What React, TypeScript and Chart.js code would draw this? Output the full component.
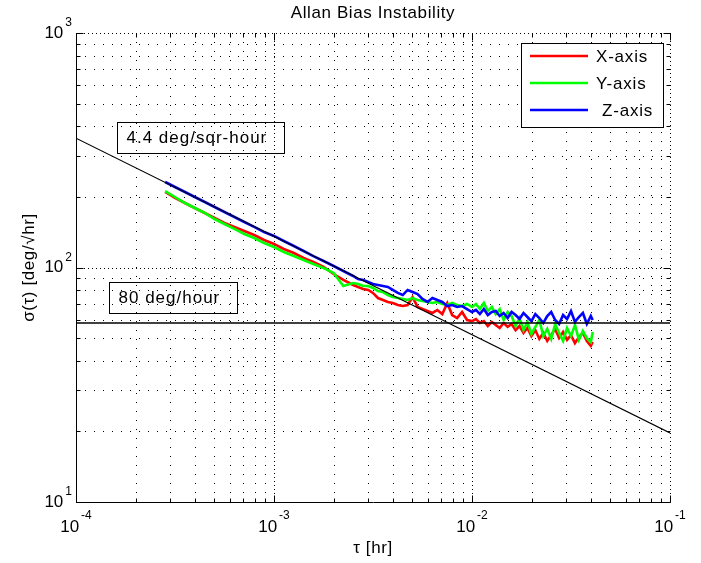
import React, { useEffect, useRef } from "react";
import { Chart, registerables } from "chart.js";

Chart.register(...registerables);

// ---------------- data ----------------
const tau = [
  2.82e-4, 3.16e-4, 3.55e-4, 3.98e-4, 4.47e-4, 5.01e-4, 5.62e-4, 6.31e-4, 7.08e-4, 7.94e-4,
  8.91e-4, 1.0e-3, 1.12e-3, 1.26e-3, 1.41e-3, 1.58e-3, 1.78e-3, 2.0e-3, 2.24e-3, 2.51e-3,
  2.66e-3, 2.82e-3, 2.99e-3, 3.16e-3, 3.35e-3, 3.55e-3, 3.76e-3, 3.98e-3, 4.22e-3, 4.47e-3,
  4.73e-3, 5.01e-3, 5.31e-3, 5.62e-3, 5.96e-3, 6.31e-3, 6.68e-3, 7.08e-3, 7.5e-3, 7.94e-3,
  8.41e-3, 8.91e-3, 9.44e-3, 1.0e-2,
  1.047e-2, 1.096e-2, 1.148e-2, 1.202e-2, 1.259e-2, 1.318e-2, 1.38e-2, 1.445e-2, 1.514e-2, 1.585e-2,
  1.66e-2, 1.738e-2, 1.82e-2, 1.905e-2, 1.995e-2, 2.089e-2, 2.188e-2, 2.291e-2, 2.399e-2, 2.512e-2,
  2.63e-2, 2.754e-2, 2.884e-2, 3.02e-2, 3.162e-2, 3.311e-2, 3.467e-2, 3.631e-2, 3.802e-2, 3.981e-2,
  4.07e-2,
];

const sigmaX = [
  209.9, 197.9, 188.4, 179.4, 170.8, 162.6, 154.8, 148.9, 143.1, 137.6,
  131.0, 126.0, 119.9, 115.3, 109.8, 105.5, 100.5, 93.8, 88.5, 84.2,
  82.6, 81.0, 80.2, 77.9, 74.1, 72.7, 71.3, 70.6, 69.2, 68.5,
  69.2, 74.8, 67.9, 66.5, 65.2, 64.0, 65.9, 63.3, 70.6, 62.7,
  60.9, 64.6, 59.7, 59.1,
  60.3, 58.0, 59.1, 56.3, 58.6, 56.9, 55.2, 58.0, 55.8, 57.4,
  54.1, 56.3, 52.6, 55.2, 51.0, 54.1, 49.6, 52.6, 48.6, 51.5,
  54.7, 50.0, 53.1, 49.1, 51.5, 47.6, 50.5, 52.6, 48.6, 46.3,
  48.1,
];

const sigmaY = [
  211.9, 199.8, 188.4, 179.4, 170.8, 161.0, 153.3, 146.0, 139.0, 133.6,
  127.2, 122.3, 116.5, 111.9, 107.6, 103.5, 99.5, 94.8, 83.4, 85.9,
  85.0, 83.4, 83.4, 81.8, 79.4, 78.6, 76.3, 74.8, 74.1, 73.4,
  72.7, 74.1, 72.7, 72.0, 71.3, 70.6, 71.3, 69.9, 69.2, 70.6,
  69.2, 68.5, 69.9, 67.9,
  69.9, 66.5, 70.6, 65.2, 67.9, 63.3, 66.5, 59.7, 64.6, 62.1,
  56.3, 60.9, 54.1, 58.6, 52.0, 55.8, 59.7, 51.0, 54.7, 49.6,
  57.4, 52.6, 48.6, 55.2, 51.0, 56.9, 49.1, 53.6, 50.0, 48.1,
  53.1,
];

const sigmaZ = [
  231.5, 220.4, 209.9, 199.8, 190.2, 181.1, 172.5, 164.2, 156.3, 148.9,
  141.7, 136.3, 129.7, 123.5, 117.6, 111.9, 106.6, 101.5, 96.6, 92.0,
  89.3, 88.5, 86.7, 85.0, 84.2, 83.4, 82.6, 80.2, 77.9, 76.3,
  80.2, 78.6, 77.1, 73.4, 71.3, 74.1, 72.7, 71.3, 68.5, 69.2,
  67.9, 68.5, 66.5, 64.6,
  65.9, 63.3, 66.5, 62.7, 64.6, 65.2, 62.1, 64.0, 60.9, 64.6,
  62.7, 60.3, 64.0, 61.5, 59.1, 63.3, 60.9, 58.0, 62.1, 64.6,
  59.7, 57.4, 62.7, 60.3, 65.2, 58.6, 61.5, 64.0, 57.4, 62.1,
  59.7,
];

const noiseLineTau = [1e-4, 1e-1];
const noiseLineSigma = [356, 19.7];
const biasLineTau = [1e-4, 1e-1];
const biasLineSigma = [58, 58];

const xTickExps = [-4, -3, -2, -1];
const yTickExps = [1, 2, 3];

const seriesNames = ["X-axis", "Y-axis", "Z-axis"];
const seriesColors = ["#ff0000", "#00ff00", "#0000ff"];

const titleText = "Allan Bias Instability";
const xTitle = "τ [hr]";
const yTitle = "σ(τ) [deg/√hr]";
const noiseLabel = "4.4 deg/sqr-hour";
const noiseLabelAt = { x: 1.62e-4, y: 360 }; // left anchor of the label box
const biasLabel = "80 deg/hour";
const biasLabelAt = { x: 1.46e-4, y: 74.8 };

// ---------------- drawing helpers ----------------
const FONT = '"Liberation Sans", Arial, Helvetica, sans-serif';
const MAIN_PX = 17;
const EXP_PX = 12;

function setSpacing(ctx: any, s: string) {
  if ("letterSpacing" in ctx) ctx.letterSpacing = s;
}

function gridValues(minExp: number, maxExp: number) {
  const out: { v: number; major: boolean }[] = [];
  for (let e = minExp; e < maxExp; e++) {
    for (let k = 1; k <= 9; k++) out.push({ v: k * Math.pow(10, e), major: k === 1 });
  }
  out.push({ v: Math.pow(10, maxExp), major: true });
  return out;
}

const decor = {
  id: "matlabDecor",
  beforeDatasetsDraw(chart: any) {
    const { ctx, chartArea: a, scales } = chart;
    const xs = scales.x;
    const ys = scales.y;
    ctx.save();
    ctx.strokeStyle = "#000";
    ctx.lineWidth = 1;
    for (const g of gridValues(xTickExps[0], xTickExps[xTickExps.length - 1])) {
      const px = Math.round(xs.getPixelForValue(g.v)) + 0.5;
      ctx.setLineDash(g.major ? [1, 3] : [1, 8]);
      ctx.beginPath();
      ctx.moveTo(px, a.bottom);
      ctx.lineTo(px, a.top);
      ctx.stroke();
    }
    for (const g of gridValues(yTickExps[0], yTickExps[yTickExps.length - 1])) {
      const py = Math.round(ys.getPixelForValue(g.v)) + 0.5;
      ctx.setLineDash(g.major ? [1, 3] : [1, 8]);
      ctx.beginPath();
      ctx.moveTo(a.left, py);
      ctx.lineTo(a.right, py);
      ctx.stroke();
    }
    ctx.restore();
  },
  afterDatasetsDraw(chart: any) {
    const { ctx, chartArea: a, scales } = chart;
    const xs = scales.x;
    const ys = scales.y;
    ctx.save();
    ctx.setLineDash([]);
    ctx.strokeStyle = "#000";
    ctx.fillStyle = "#000";
    ctx.lineWidth = 1;

    const L = Math.round(a.left) + 0.5;
    const B = Math.round(a.bottom) + 0.5;
    const T = Math.round(a.top) + 0.5;
    const R = Math.round(a.right) + 0.5;

    // solid axes (left & bottom)
    ctx.beginPath();
    ctx.moveTo(L, T);
    ctx.lineTo(L, B);
    ctx.lineTo(R, B);
    ctx.stroke();

    // inward tick marks on all sides
    for (const g of gridValues(xTickExps[0], xTickExps[xTickExps.length - 1])) {
      const px = Math.round(xs.getPixelForValue(g.v)) + 0.5;
      const len = g.major ? 7 : 4;
      ctx.beginPath();
      ctx.moveTo(px, B);
      ctx.lineTo(px, B - len);
      ctx.moveTo(px, T);
      ctx.lineTo(px, T + len);
      ctx.stroke();
    }
    for (const g of gridValues(yTickExps[0], yTickExps[yTickExps.length - 1])) {
      const py = Math.round(ys.getPixelForValue(g.v)) + 0.5;
      const len = g.major ? 7 : 4;
      ctx.beginPath();
      ctx.moveTo(L, py);
      ctx.lineTo(L + len, py);
      ctx.moveTo(R, py);
      ctx.lineTo(R - len, py);
      ctx.stroke();
    }

    // tick labels 10^n
    ctx.textBaseline = "middle";
    for (const e of xTickExps) {
      const px = xs.getPixelForValue(Math.pow(10, e));
      ctx.font = `${MAIN_PX}px ${FONT}`;
      const w1 = ctx.measureText("10").width;
      ctx.font = `${EXP_PX}px ${FONT}`;
      const es = String(e);
      const w2 = ctx.measureText(es).width;
      const x0 = px - (w1 + 2 + w2) / 2;
      ctx.textAlign = "left";
      ctx.font = `${MAIN_PX}px ${FONT}`;
      ctx.fillText("10", x0, a.bottom + 25);
      ctx.font = `${EXP_PX}px ${FONT}`;
      ctx.fillText(es, x0 + w1 + 2, a.bottom + 14);
    }
    for (const e of yTickExps) {
      const py = ys.getPixelForValue(Math.pow(10, e));
      const es = String(e);
      ctx.textAlign = "right";
      ctx.font = `${EXP_PX}px ${FONT}`;
      const w2 = ctx.measureText(es).width;
      ctx.fillText(es, a.left - 4, py - 10);
      ctx.font = `${MAIN_PX}px ${FONT}`;
      ctx.fillText("10", a.left - 6 - w2, py);
    }

    // title & axis titles
    ctx.textAlign = "center";
    ctx.font = `${MAIN_PX}px ${FONT}`;
    setSpacing(ctx, "0.6px");
    ctx.fillText(titleText, (a.left + a.right) / 2, 13);
    ctx.fillText(xTitle, (a.left + a.right) / 2, 548);
    ctx.save();
    ctx.translate(29, (a.top + a.bottom) / 2);
    ctx.rotate(-Math.PI / 2);
    ctx.fillText(yTitle, 0, 0);
    ctx.restore();

    // annotation boxes (transparent background)
    const drawLabelBox = (text: string, at: { x: number; y: number }) => {
      ctx.font = `${MAIN_PX}px ${FONT}`;
      setSpacing(ctx, "1px");
      const w = ctx.measureText(text).width;
      const bx = Math.round(xs.getPixelForValue(at.x)) + 0.5;
      const cy = ys.getPixelForValue(at.y);
      const h = 31;
      const by = Math.round(cy - h / 2) + 0.5;
      const bw = Math.round(w + 26);
      ctx.lineWidth = 1;
      ctx.strokeRect(bx, by, bw, h);
      ctx.textAlign = "left";
      ctx.fillText(text, bx + 9, cy + 1);
    };
    drawLabelBox(noiseLabel, noiseLabelAt);
    drawLabelBox(biasLabel, biasLabelAt);

    // legend (white box, top-right)
    const lx = 521.5;
    const ly = 43.5;
    const lw = 142;
    const lh = 84;
    ctx.fillStyle = "#fff";
    ctx.fillRect(lx, ly, lw, lh);
    ctx.strokeStyle = "#000";
    ctx.strokeRect(lx, ly, lw, lh);
    ctx.font = `${MAIN_PX}px ${FONT}`;
    setSpacing(ctx, "0.8px");
    ctx.textAlign = "left";
    seriesNames.forEach((name, i) => {
      const ry = 56 + i * 27;
      ctx.strokeStyle = seriesColors[i];
      ctx.lineWidth = 2.4;
      ctx.beginPath();
      ctx.moveTo(530, ry);
      ctx.lineTo(588, ry);
      ctx.stroke();
      ctx.fillStyle = "#000";
      ctx.fillText(name, i === 2 ? 602 : 596, ry + 1);
    });
    setSpacing(ctx, "0px");
    ctx.restore();
  },
};

function toPoints(xs: number[], ys: number[]) {
  return xs.map((x, i) => ({ x, y: ys[i] }));
}

export default function App() {
  const ref = useRef<HTMLCanvasElement | null>(null);

  useEffect(() => {
    if (!ref.current) return;
    const sigmas = [sigmaX, sigmaY, sigmaZ];
    const chart = new Chart(ref.current, {
      type: "line",
      data: {
        datasets: [
          ...seriesNames.map((name, i) => ({
            label: name,
            data: toPoints(tau, sigmas[i]),
            borderColor: seriesColors[i],
            backgroundColor: seriesColors[i],
            borderWidth: 2.6,
            pointRadius: 0,
            tension: 0,
            fill: false,
            order: 4 - i,
          })),
          {
            label: "noise",
            data: toPoints(noiseLineTau, noiseLineSigma),
            borderColor: "#000",
            borderWidth: 1.2,
            pointRadius: 0,
            fill: false,
            order: 1,
          },
          {
            label: "bias",
            data: toPoints(biasLineTau, biasLineSigma),
            borderColor: "#000",
            borderWidth: 1.6,
            pointRadius: 0,
            fill: false,
            order: 0,
          },
        ],
      },
      options: {
        animation: false,
        responsive: false,
        devicePixelRatio: 1,
        layout: { padding: { left: 76, right: 31, top: 33, bottom: 61 } },
        plugins: {
          legend: { display: false },
          title: { display: false },
          tooltip: { enabled: false },
        },
        scales: {
          x: {
            type: "logarithmic",
            min: Math.pow(10, xTickExps[0]),
            max: Math.pow(10, xTickExps[xTickExps.length - 1]),
            display: false,
          },
          y: {
            type: "logarithmic",
            min: Math.pow(10, yTickExps[0]),
            max: Math.pow(10, yTickExps[yTickExps.length - 1]),
            display: false,
          },
        },
      },
      plugins: [decor],
    } as any);
    return () => chart.destroy();
  }, []);

  return (
    <div style={{ position: "fixed", left: 0, top: 0, width: 701, height: 563, background: "#fff" }}>
      <canvas ref={ref} width={701} height={563} style={{ display: "block" }} />
    </div>
  );
}
